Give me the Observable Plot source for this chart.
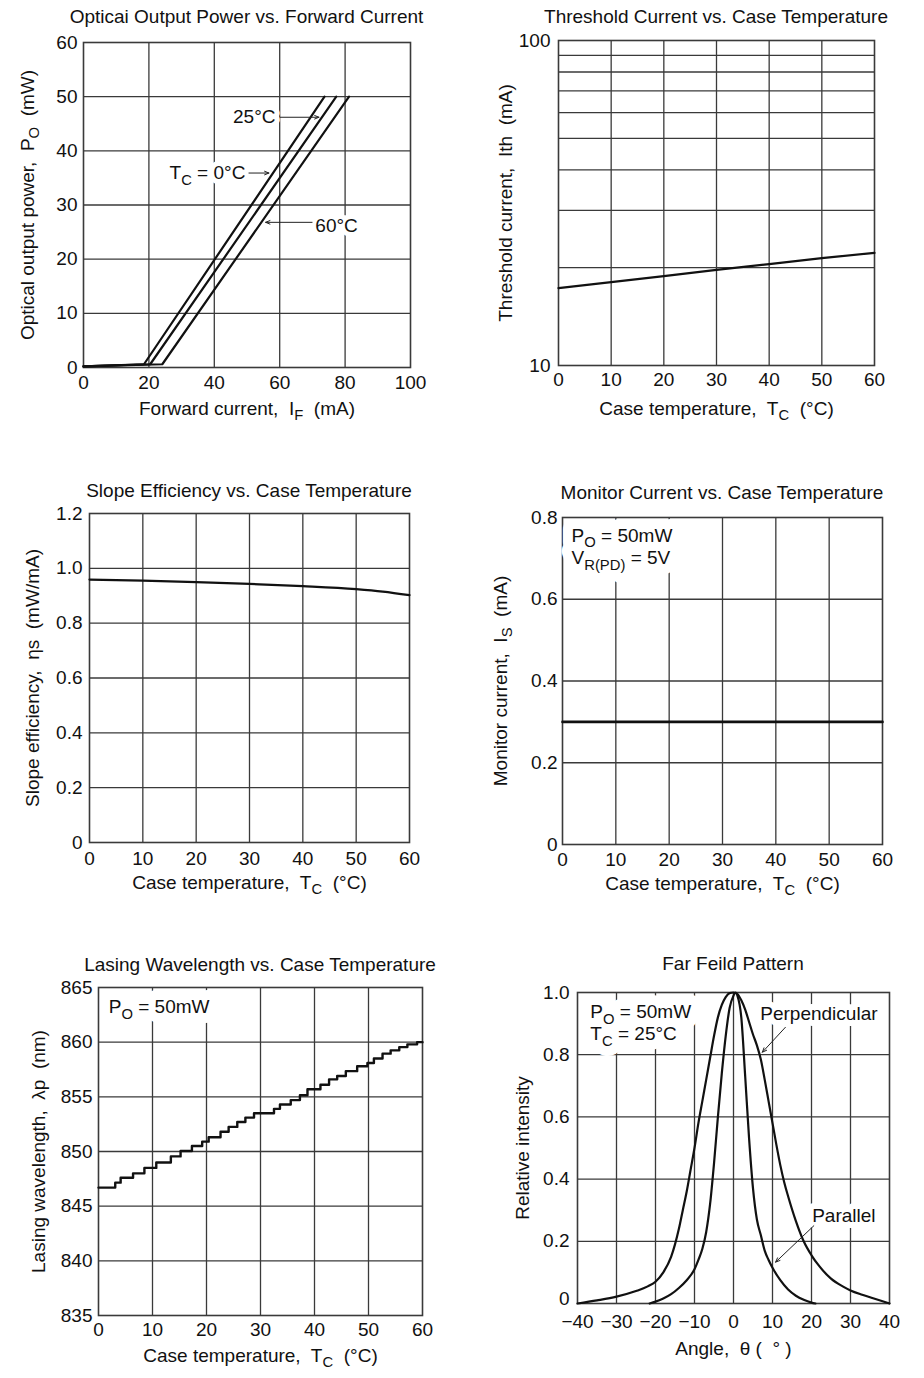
<!DOCTYPE html>
<html><head><meta charset="utf-8">
<script src="https://cdn.jsdelivr.net/npm/d3@7"></script>
<script src="https://cdn.jsdelivr.net/npm/@observablehq/plot@0.6"></script>
<style>
body{margin:0;background:#fff;}
#page{position:relative;width:924px;height:1378px;overflow:hidden;font-family:'Liberation Sans',Arial,Helvetica,sans-serif;color:#111;background:#fff}
.title{position:absolute;font-size:19px;line-height:22px;text-align:center;white-space:nowrap;color:#111}
.panel{position:absolute}
svg text{white-space:pre}
</style></head><body><div id="page"></div>
<script>
// ---------- Panel 1: Optical output power vs forward current ----------
const p1Title = "Opticai Output Power vs. Forward Current";
const p1XTicks = [0, 20, 40, 60, 80, 100];
const p1YTicks = [0, 10, 20, 30, 40, 50, 60];
const p1Current0 = [0, 18.5, 73.7];
const p1Power0 = [0.2, 0.6, 50];
const p1Current25 = [0, 20.4, 77.3];
const p1Power25 = [0.2, 0.6, 50];
const p1Current60 = [0, 24.1, 81.2];
const p1Power60 = [0.2, 0.6, 50];
const p1Labels = ["25°C", "T_{C} = 0°C", "60°C"];
const p1LabelX = [58.7, 49.5, 70.9];
const p1LabelY = [46.2, 35.9, 26.2];
const p1LabelAnchor = ["end", "end", "start"];
const p1ArrowX1 = [60.2, 50.6, 69.9];
const p1ArrowY1 = [46.2, 35.9, 26.8];
const p1ArrowX2 = [72.0, 56.7, 55.7];
const p1ArrowY2 = [46.2, 35.9, 26.8];

// ---------- Panel 2: Threshold current ----------
const p2Title = "Threshold Current vs. Case Temperature";
const p2XTicks = [0, 10, 20, 30, 40, 50, 60];
const p2YTicks = [10, 100];
const p2YGrid = [20, 30, 40, 50, 60, 70, 80, 90];
const p2Temp = [0, 10, 20, 30, 40, 50, 60];
const p2Ith = [17.3, 18.05, 18.83, 19.7, 20.5, 21.39, 22.22];

// ---------- Panel 3: Slope efficiency ----------
const p3Title = "Slope Efficiency vs. Case Temperature";
const p3XTicks = [0, 10, 20, 30, 40, 50, 60];
const p3YTicks = [0, 0.2, 0.4, 0.6, 0.8, 1.0, 1.2];
const p3Temp = [0, 10, 20, 30, 40, 50, 55, 60];
const p3Eff = [0.959, 0.955, 0.95, 0.943, 0.935, 0.924, 0.915, 0.902];

// ---------- Panel 4: Monitor current ----------
const p4Title = "Monitor Current vs. Case Temperature";
const p4XTicks = [0, 10, 20, 30, 40, 50, 60];
const p4YTicks = [0, 0.2, 0.4, 0.6, 0.8];
const p4Temp = [0, 60];
const p4Is = [0.3, 0.3];
const p4Notes = ["P_{O} = 50mW", "V_{R(PD)} = 5V"];
const p4NoteX = [1.7, 1.7];
const p4NoteY = [0.756, 0.701];

// ---------- Panel 5: Lasing wavelength ----------
const p5Title = "Lasing Wavelength vs. Case Temperature";
const p5XTicks = [0, 10, 20, 30, 40, 50, 60];
const p5YTicks = [835, 840, 845, 850, 855, 860, 865];
const p5Temp = [0, 3.1, 4.1, 6.4, 8.5, 10.7, 13.4, 15.2, 17.3, 19.2, 20.4, 22.6, 24.1, 25.7, 27.2, 28.8, 32.5, 33.6, 35.6, 37.3, 38.7, 41.1, 42.7, 44.2, 45.8, 47.9, 49.8, 51.0, 52.6, 54.1, 55.7, 57.2, 59.0, 60];
const p5Wave = [846.7, 847.15, 847.6, 848.0, 848.5, 849.0, 849.55, 850.05, 850.5, 850.9, 851.3, 851.8, 852.25, 852.7, 853.1, 853.5, 853.9, 854.3, 854.7, 855.15, 855.7, 856.1, 856.6, 856.9, 857.35, 857.8, 858.1, 858.5, 858.95, 859.25, 859.55, 859.8, 860.0, 860.0];
const p5Notes = ["P_{O} = 50mW"];
const p5NoteX = [1.9];
const p5NoteY = [863.2];

// ---------- Panel 6: Far field pattern ----------
const p6Title = "Far Feild Pattern";
const p6XTicks = [-40, -30, -20, -10, 0, 10, 20, 30, 40];
const p6YTicks = [0.2, 0.4, 0.6, 0.8, 1.0];
const p6YZeroTick = [0];
const p6PerpAngle = [-40,-35,-30,-25,-22,-20,-18,-16,-15,-14,-13,-12,-11,-10,-9,-8,-7,-6,-5,-4,-3,-2,-1,0,1,2,3,4,5,6,7,8,9,10,11,12,13,14,16,18,20,22,25,28,30,33,36,40];
const p6PerpInt = [0,0.01,0.022,0.04,0.055,0.07,0.1,0.15,0.19,0.24,0.3,0.36,0.43,0.5,0.58,0.65,0.72,0.79,0.86,0.92,0.96,0.985,0.998,1.0,0.995,0.975,0.945,0.905,0.865,0.83,0.785,0.72,0.65,0.58,0.51,0.445,0.39,0.345,0.265,0.2,0.155,0.12,0.08,0.055,0.042,0.028,0.016,0];
const p6ParAngle = [-21.5,-20,-18,-16,-14,-12,-10,-9,-8,-7,-6,-5,-4,-3,-2,-1,0,0.5,1,2,3,4,5,6,7,8,9,10,12,14,16,18,20,21];
const p6ParInt = [0,0.006,0.016,0.03,0.05,0.075,0.11,0.14,0.175,0.23,0.32,0.45,0.6,0.74,0.86,0.95,0.99,1.0,0.99,0.92,0.73,0.53,0.37,0.27,0.22,0.17,0.14,0.115,0.075,0.045,0.025,0.012,0.003,0];
const p6Notes = ["P_{O} = 50mW", "T_{C} = 25°C"];
const p6NoteX = [-36.7, -36.7];
const p6NoteY = [0.937, 0.867];
const p6Names = ["Perpendicular", "Parallel"];
const p6NameX = [21.9, 28.3];
const p6NameY = [0.93, 0.283];
const p6ArrowX1 = [13.3, 20.6];
const p6ArrowY1 = [0.888, 0.25];
const p6ArrowX2 = [7.4, 10.8];
const p6ArrowY2 = [0.808, 0.133];

// ---------- helpers ----------
const GRID = "#3a3a3a";
const FONT = "'Liberation Sans', Arial, Helvetica, sans-serif";
const page = document.getElementById("page");
const zip = (xs, ys) => xs.map((x, i) => ({x, y: ys[i]}));
const fmt1 = d => d === 0 ? "0" : d.toFixed(1);

function base(o) {
  return [
    Plot.gridX(o.xGrid, {stroke: GRID, strokeOpacity: 1, strokeWidth: 1.3}),
    Plot.gridY(o.yGrid, {stroke: GRID, strokeOpacity: 1, strokeWidth: 1.3}),
    Plot.frame({stroke: GRID, strokeWidth: 1.6}),
    Plot.axisX(o.xTicks, {tickSize: 0, tickPadding: o.xPad, label: null, tickFormat: o.xFormat || (d => String(d).replace("-", "\u2212"))}),
    Plot.axisY(o.yTicks, {tickSize: 0, tickPadding: o.yPad, label: null, tickFormat: o.yFormat || (d => String(d))}),
    Plot.text([o.xLabel], {frameAnchor: "bottom", dy: o.xLabelDy, text: d => d, textAnchor: "middle", lineAnchor: "middle"}),
    Plot.text([o.yLabel], {frameAnchor: "left", dx: -o.yLabelDx, rotate: -90, text: d => d, textAnchor: "middle", lineAnchor: "middle"})
  ];
}

// Text on a white "knock-out" background (halo layer + clean text layer)
function notes(data, opts, haloWidth) {
  return [
    Plot.text(data, {...opts, fill: "white", stroke: "white", strokeWidth: haloWidth, strokeLinejoin: "round"}),
    Plot.text(data, {...opts, fill: "#111"})
  ];
}

function richify(svg) {
  const ns = "http://www.w3.org/2000/svg";
  svg.querySelectorAll("text").forEach(t => {
    const nodes = [];
    const collect = el => { for (const n of Array.from(el.childNodes)) { if (n.nodeType === 3) nodes.push(n); else collect(n); } };
    collect(t);
    const fs = parseFloat(getComputedStyle(t).fontSize) || 19;
    const shift = +(fs * 0.3).toFixed(2);
    for (const n of nodes) {
      const s = n.nodeValue;
      if (!s.includes("_{")) continue;
      const parts = s.split(/(_\{[^}]*\})/);
      const frag = document.createDocumentFragment();
      let down = false;
      for (const p of parts) {
        if (!p) continue;
        const ts = document.createElementNS(ns, "tspan");
        if (p.startsWith("_{")) {
          ts.textContent = p.slice(2, -1);
          ts.setAttribute("font-size", (fs * 0.78).toFixed(1) + "px");
          ts.setAttribute("dy", shift);
          down = true;
        } else {
          ts.textContent = p;
          if (down) { ts.setAttribute("dy", -shift); down = false; }
        }
        frag.appendChild(ts);
      }
      n.parentNode.replaceChild(frag, n);
    }
  });
}

function addPanel(p) {
  const [mt, mr, mb, ml] = p.margin;
  const svg = Plot.plot({
    width: p.width, height: p.height,
    marginTop: mt, marginRight: mr, marginBottom: mb, marginLeft: ml,
    x: p.x, y: p.y,
    style: {fontFamily: FONT, fontSize: "19px", color: "#111", background: "transparent", overflow: "visible"},
    marks: p.marks
  });
  svg.classList.add("panel");
  svg.style.left = p.left + "px";
  svg.style.top = p.top + "px";
  page.appendChild(svg);
  richify(svg);
  const t = document.createElement("div");
  t.className = "title";
  t.textContent = p.title;
  const center = p.left + ml + (p.width - ml - mr) / 2;
  t.style.left = (center - 300) + "px";
  t.style.width = "600px";
  t.style.top = (p.titleY - 11) + "px";
  page.appendChild(t);
}

const lineStyle = {stroke: "#111", strokeWidth: 2.2};
const arrowStyle = {x1: "x1", y1: "y1", x2: "x2", y2: "y2", stroke: "#222", strokeWidth: 1, headLength: 7, headAngle: 45};

// Panel 1
const p1LabelData = p1Labels.map((t, i) => ({t, x: p1LabelX[i], y: p1LabelY[i], a: p1LabelAnchor[i]}));
addPanel({
  left: 0, top: 30, width: 460, height: 400, margin: [12, 50, 63, 83], title: p1Title, titleY: 17,
  x: {domain: [0, 100]}, y: {domain: [0, 60]},
  marks: [
    ...base({xGrid: [20, 40, 60, 80], yGrid: [10, 20, 30, 40, 50], xTicks: p1XTicks, yTicks: p1YTicks, xPad: 8, yPad: 6,
      xLabel: "Forward current,  I_{F}  (mA)", xLabelDy: 41, yLabel: "Optical output power,  P_{O}  (mW)", yLabelDx: 56}),
    Plot.line(zip(p1Current0, p1Power0), {x: "x", y: "y", ...lineStyle}),
    Plot.line(zip(p1Current25, p1Power25), {x: "x", y: "y", ...lineStyle}),
    Plot.line(zip(p1Current60, p1Power60), {x: "x", y: "y", ...lineStyle}),
    ...notes(p1LabelData.filter(d => d.a === "end"), {x: "x", y: "y", text: "t", textAnchor: "end"}, 10),
    ...notes(p1LabelData.filter(d => d.a === "start"), {x: "x", y: "y", text: "t", textAnchor: "start"}, 10),
    Plot.arrow(p1ArrowX1.map((x1, i) => ({x1, y1: p1ArrowY1[i], x2: p1ArrowX2[i], y2: p1ArrowY2[i]})), arrowStyle)
  ]
});

// Panel 2
addPanel({
  left: 460, top: 30, width: 464, height: 400, margin: [10, 50, 65, 98], title: p2Title, titleY: 17,
  x: {domain: [0, 60]}, y: {type: "log", domain: [10, 100]},
  marks: [
    ...base({xGrid: [10, 20, 30, 40, 50], yGrid: p2YGrid, xTicks: p2XTicks, yTicks: p2YTicks, xPad: 7, yPad: 8,
      xLabel: "Case temperature,  T_{C}  (°C)", xLabelDy: 43, yLabel: "Threshold current,  Ith  (mA)", yLabelDx: 53}),
    Plot.line(zip(p2Temp, p2Ith), {x: "x", y: "y", ...lineStyle})
  ]
});

// Panel 3
addPanel({
  left: 0, top: 505, width: 460, height: 400, margin: [8, 51, 63, 89], title: p3Title, titleY: 491,
  x: {domain: [0, 60]}, y: {domain: [0, 1.2]},
  marks: [
    ...base({xGrid: [10, 20, 30, 40, 50], yGrid: [0.2, 0.4, 0.6, 0.8, 1.0], xTicks: p3XTicks, yTicks: p3YTicks, xPad: 9, yPad: 7, yFormat: fmt1,
      xLabel: "Case temperature,  T_{C}  (°C)", xLabelDy: 40, yLabel: "Slope efficiency,  ηs  (mW/mA)", yLabelDx: 57}),
    Plot.line(zip(p3Temp, p3Eff), {x: "x", y: "y", ...lineStyle, curve: "monotone-x"})
  ]
});

// Panel 4
addPanel({
  left: 460, top: 505, width: 464, height: 400, margin: [12, 42, 61, 102], title: p4Title, titleY: 493,
  x: {domain: [0, 60]}, y: {domain: [0, 0.8]},
  marks: [
    ...base({xGrid: [10, 20, 30, 40, 50], yGrid: [0.2, 0.4, 0.6], xTicks: p4XTicks, yTicks: p4YTicks, xPad: 8, yPad: 5, yFormat: fmt1,
      xLabel: "Case temperature,  T_{C}  (°C)", xLabelDy: 39, yLabel: "Monitor current,  I_{S}  (mA)", yLabelDx: 62}),
    Plot.line(zip(p4Temp, p4Is), {x: "x", y: "y", stroke: "#111", strokeWidth: 2.6}),
    ...notes(p4Notes.map((t, i) => ({t, x: p4NoteX[i], y: p4NoteY[i]})), {x: "x", y: "y", text: "t", textAnchor: "start"}, 20)
  ]
});

// Panel 5
addPanel({
  left: 0, top: 975, width: 460, height: 400, margin: [12, 38, 60, 98], title: p5Title, titleY: 965,
  x: {domain: [0, 60]}, y: {domain: [835, 865]},
  marks: [
    ...base({xGrid: [10, 20, 30, 40, 50], yGrid: [840, 845, 850, 855, 860], xTicks: p5XTicks, yTicks: p5YTicks, xPad: 7, yPad: 6,
      xLabel: "Case temperature,  T_{C}  (°C)", xLabelDy: 40, yLabel: "Lasing wavelength,  λp  (nm)", yLabelDx: 60}),
    Plot.line(zip(p5Temp, p5Wave), {x: "x", y: "y", stroke: "#111", strokeWidth: 2.4, curve: "step-after"}),
    ...notes(p5Notes.map((t, i) => ({t, x: p5NoteX[i], y: p5NoteY[i]})), {x: "x", y: "y", text: "t", textAnchor: "start"}, 20)
  ]
});

// Panel 6
addPanel({
  left: 460, top: 975, width: 464, height: 400, margin: [17, 35, 72, 117], title: p6Title, titleY: 964,
  x: {domain: [-40, 40]}, y: {domain: [0, 1]},
  marks: [
    ...base({xGrid: [-30, -20, -10, 0, 10, 20, 30], yGrid: [0.2, 0.4, 0.6, 0.8], xTicks: p6XTicks, yTicks: p6YTicks, xPad: 11, yPad: 8, yFormat: fmt1,
      xLabel: "Angle,  θ (  ° )", xLabelDy: 45, yLabel: "Relative intensity", yLabelDx: 55}),
    Plot.axisY(p6YZeroTick, {tickSize: 0, tickPadding: 8, label: null, dy: -5, tickFormat: d => String(d)}),
    Plot.line(zip(p6PerpAngle, p6PerpInt), {x: "x", y: "y", ...lineStyle, curve: "monotone-x"}),
    Plot.line(zip(p6ParAngle, p6ParInt), {x: "x", y: "y", ...lineStyle, curve: "monotone-x"}),
    ...notes(p6Notes.map((t, i) => ({t, x: p6NoteX[i], y: p6NoteY[i]})), {x: "x", y: "y", text: "t", textAnchor: "start"}, 20),
    ...notes(p6Names.map((t, i) => ({t, x: p6NameX[i], y: p6NameY[i]})), {x: "x", y: "y", text: "t"}, 12),
    Plot.arrow(p6ArrowX1.map((x1, i) => ({x1, y1: p6ArrowY1[i], x2: p6ArrowX2[i], y2: p6ArrowY2[i]})), arrowStyle)
  ]
});
</script></body></html>
